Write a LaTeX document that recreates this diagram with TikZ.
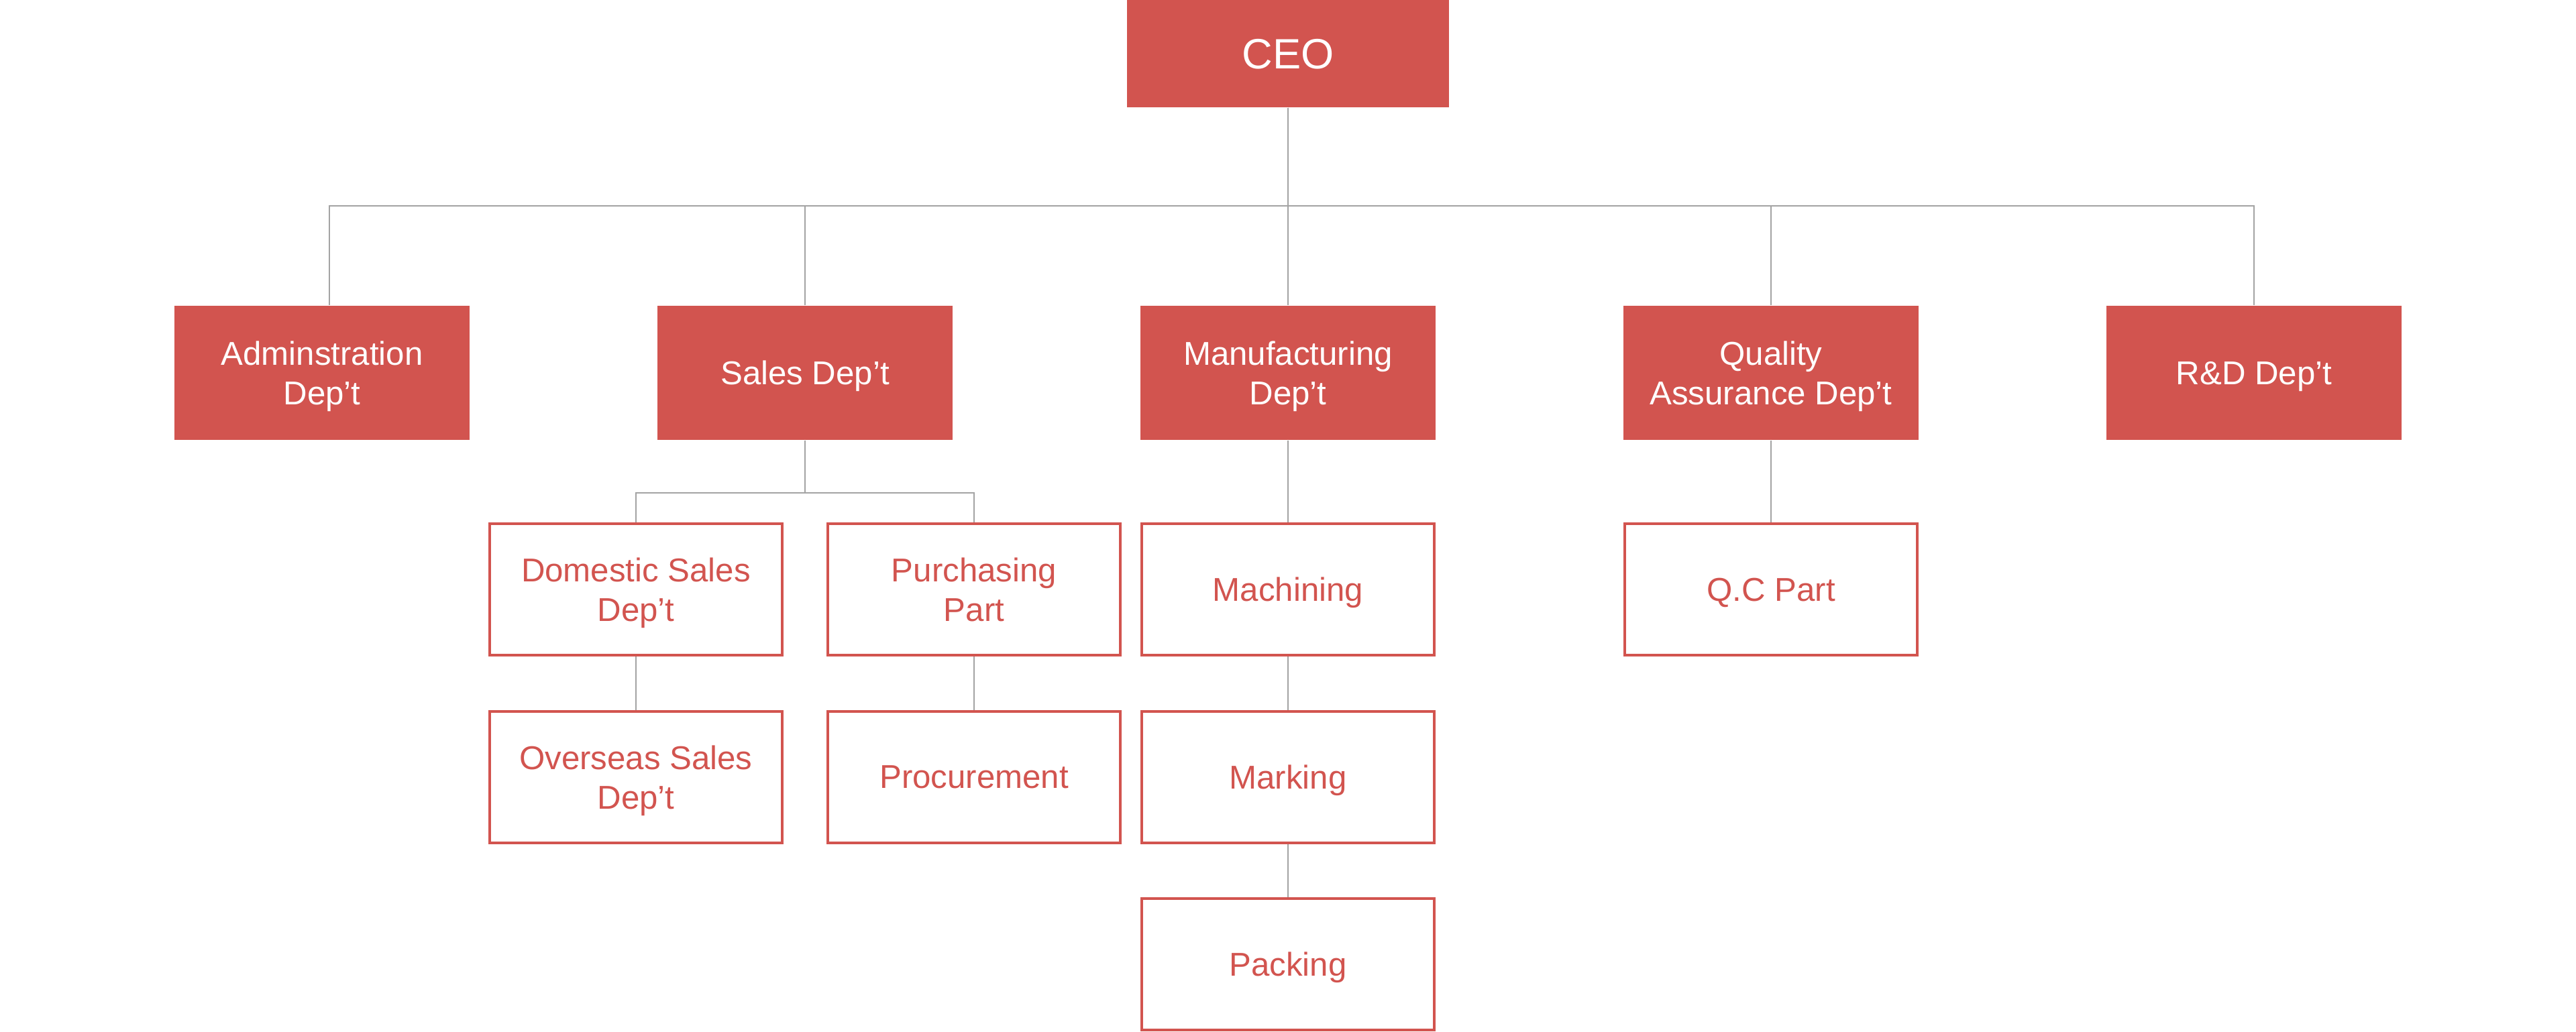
\documentclass[tikz,border=0pt]{standalone}
\usepackage{fontspec}
\setmainfont{Liberation Sans}
\usepackage{tikz}
\usetikzlibrary{positioning,calc}
\definecolor{orgred}{HTML}{D2544F}
\definecolor{linkgray}{HTML}{A3A3A3}
\tikzset{
    box text/.style={font=\fontsize{14}{16.8}\selectfont, align=center, inner sep=0pt, text depth=0pt},
    head box/.style={box text, fill=orgred, text=white, minimum width=4.8cm, minimum height=1.6cm, font=\fontsize{18}{21}\selectfont},
    dept box/.style={box text, fill=orgred, text=white, minimum width=4.4cm, minimum height=2cm},
    part box/.style={box text, draw=orgred, line width=.04cm, text=orgred, minimum width=4.36cm, minimum height=1.96cm},
    link/.style={draw=linkgray, line width=.015cm},
}

\begin{document}
\begin{tikzpicture}
        \useasboundingbox (0,0) rectangle (38.4,-15.38);

        \coordinate (bus) at (0,-3.07);
        \coordinate (salesbus) at (0,-7.35);

        % top
        \node[head box] (ceo) at (19.2,-.8) {CEO};

        % departments
        \node[dept box] (admin) at (4.8,-5.56) {Adminstration\\Dep’t};
        \node[dept box] (sales) at (12,-5.56) {Sales Dep’t};
        \node[dept box] (manuf) at (19.2,-5.56) {Manufacturing\\Dep’t};
        \node[dept box] (qa) at (26.4,-5.56) {Quality\\Assurance Dep’t};
        \node[dept box] (rnd) at (33.6,-5.56) {R\&D Dep’t};

        % parts
        \node[part box] (domestic) at (9.48,-8.79) {Domestic Sales\\Dep’t};
        \node[part box] (purchasing) at (14.52,-8.79) {Purchasing\\Part};
        \node[part box] (machining) at (19.2,-8.79) {Machining};
        \node[part box] (qc) at (26.4,-8.79) {Q.C Part};
        \node[part box] (overseas) at (9.48,-11.59) {Overseas Sales\\Dep’t};
        \node[part box] (procurement) at (14.52,-11.59) {Procurement};
        \node[part box] (marking) at (19.2,-11.59) {Marking};
        \node[part box] (packing) at (19.2,-14.38) {Packing};

        % links
        \draw[link] (ceo.south) -- (ceo.south |- bus) -| ([xshift=1.1mm]admin.north);
        \foreach \d in {sales,manuf,qa,rnd}
            \draw[link] (ceo.south) -- (ceo.south |- bus) -| (\d.north);
        \foreach \p in {domestic,purchasing}
            \draw[link] (sales.south) -- (sales.south |- salesbus) -| (\p.north);
        \draw[link] (domestic) -- (overseas);
        \draw[link] (purchasing) -- (procurement);
        \draw[link] (manuf) -- (machining);
        \draw[link] (machining) -- (marking);
        \draw[link] (marking) -- (packing);
        \draw[link] (qa) -- (qc);
    \end{tikzpicture}
\end{document}
